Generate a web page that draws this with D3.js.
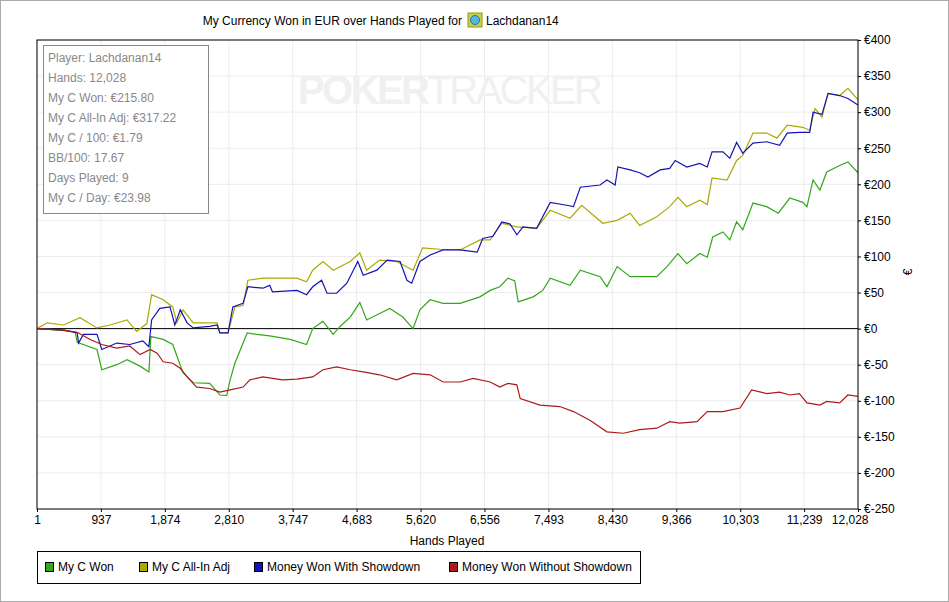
<!DOCTYPE html>
<html><head><meta charset="utf-8">
<script src="https://cdn.jsdelivr.net/npm/d3@7"></script>
<style>body{margin:0;background:#fff}svg{font-family:"Liberation Sans",Arial,sans-serif}</style>
</head><body><svg id="c" width="949" height="602"></svg>
<script>
const xTicks = [1, 937, 1874, 2810, 3747, 4683, 5620, 6556, 7493, 8430, 9366, 10303, 11239, 12028];
const yTicks = [400, 350, 300, 250, 200, 150, 100, 50, 0, -50, -100, -150, -200, -250];
const stats = ["Player: Lachdanan14", "Hands: 12,028", "My C Won: €215.80", "My C All-In Adj: €317.22",
  "My C / 100: €1.79", "BB/100: 17.67", "Days Played: 9", "My C / Day: €23.98"];

const wonHands = [1,340,560,590,880,950,1170,1320,1510,1640,1670,1850,1990,2050,2140,2290,2530,2680,2780,2830,2900,3080,3220,3410,3710,3950,4040,4190,4340,4440,4590,4730,4830,5020,5170,5360,5510,5610,5760,5950,6200,6490,6640,6780,6900,7000,7050,7270,7410,7520,7810,7960,8250,8350,8500,8690,8880,9080,9230,9390,9520,9710,9820,9900,10050,10150,10250,10340,10490,10690,10860,11030,11220,11280,11370,11470,11570,11760,11880,12028];
const wonVals  = [0,-2,-5,-19,-29,-57,-50,-43,-52,-60,-11,-15,-22,-38,-61,-75,-76,-92,-93,-71,-48,-6,-8,-10,-15,-22,0,10,-8,3,16,36,12,21,28,16,0,26,40,35,35,44,53,58,70,66,37,44,53,70,60,81,72,58,86,72,72,72,86,104,90,104,99,127,134,123,148,137,174,169,160,181,175,169,206,192,217,226,231,216];

const adjHands = [1,150,390,630,880,1070,1320,1460,1610,1680,1850,1990,2050,2140,2290,2490,2640,2680,2800,2860,2900,3020,3090,3310,3600,3810,3950,4040,4190,4340,4590,4730,4830,5020,5270,5510,5650,5900,6200,6490,6640,6810,7030,7320,7520,7810,7980,8290,8500,8690,8830,9080,9270,9390,9520,9710,9820,9890,10110,10250,10340,10490,10690,10840,10990,11220,11320,11400,11500,11590,11760,11880,12028];
const adjVals  = [0,8,5,15,1,5,12,-4,7,47,40,30,8,26,8,8,8,-6,-6,16,30,32,67,70,70,70,65,81,93,81,93,105,81,95,93,81,112,110,109,123,123,146,141,139,164,153,171,146,150,160,143,155,169,182,169,178,172,209,206,233,240,271,271,264,282,279,275,305,293,326,323,333,317];

const sdHands = [1,400,590,610,680,880,950,1170,1360,1550,1640,1680,1800,1950,2020,2100,2200,2290,2530,2640,2680,2800,2870,3020,3090,3310,3410,3450,3810,3950,4040,4170,4250,4390,4540,4700,4780,4980,5130,5320,5420,5490,5610,5760,5950,6200,6450,6530,6680,6810,6930,7030,7120,7320,7520,7760,7860,7960,8250,8350,8470,8510,8690,8830,8950,9130,9270,9350,9520,9710,9820,9890,10050,10150,10250,10340,10490,10690,10880,10990,11170,11320,11370,11500,11590,11760,11880,12028];
const sdVals  = [0,-2,-6,-20,-8,-8,-29,-20,-22,-17,-25,12,28,30,5,26,8,1,3,5,-6,-6,30,35,58,56,60,51,53,47,58,67,49,49,63,93,74,81,95,93,67,63,93,102,109,109,106,125,128,148,145,130,141,139,175,171,169,196,199,206,199,224,220,216,210,220,222,233,224,229,224,245,245,236,258,243,257,259,254,271,272,272,300,297,326,323,319,310];

const nsdHands = [1,390,590,780,950,1170,1360,1510,1660,1760,1850,1990,2100,2200,2340,2530,2680,2830,3020,3120,3310,3600,3810,4040,4190,4390,4590,4780,5020,5270,5510,5760,5950,6200,6390,6640,6780,6900,7030,7080,7370,7660,7860,8100,8350,8590,8830,9080,9270,9420,9670,9820,10050,10300,10470,10690,10880,11030,11170,11280,11470,11570,11760,11880,12028];
const nsdVals  = [0,-2,-5,-15,-22,-27,-24,-36,-29,-34,-46,-48,-55,-67,-81,-83,-88,-85,-81,-71,-67,-71,-70,-67,-57,-53,-57,-60,-64,-71,-62,-64,-74,-74,-69,-74,-81,-76,-78,-97,-106,-108,-115,-127,-143,-145,-140,-138,-129,-131,-129,-115,-115,-110,-85,-90,-88,-92,-90,-103,-106,-101,-103,-92,-94];

const series = [
  {name: "My C Won", color: "#33a81a", h: wonHands, v: wonVals},
  {name: "My C All-In Adj", color: "#aaaa00", h: adjHands, v: adjVals},
  {name: "Money Won With Showdown", color: "#1414b4", h: sdHands, v: sdVals},
  {name: "Money Won Without Showdown", color: "#ac1a1a", h: nsdHands, v: nsdVals}
];

const svg = d3.select("#c");
const L = 37, R = 858, T = 40, B = 509;
const x = d3.scaleLinear().domain([1, 12028]).range([L, R]);
const y = d3.scaleLinear().domain([-250, 400]).range([B, T]);

svg.append("rect").attr("x", 0.5).attr("y", 0.5).attr("width", 948).attr("height", 601)
  .attr("fill", "#fff").attr("stroke", "#aaa");

svg.append("text").attr("x", 462).attr("y", 25).attr("text-anchor", "end").attr("font-size", 12)
  .text("My Currency Won in EUR over Hands Played for");
svg.append("rect").attr("x", 468).attr("y", 13).attr("width", 14).attr("height", 14).attr("fill", "#c8d23c").attr("stroke", "#8a9a20");
svg.append("circle").attr("cx", 475).attr("cy", 20).attr("r", 4.5).attr("fill", "#5ab4e6").attr("stroke", "#2a6ea0");
svg.append("text").attr("x", 486).attr("y", 25).attr("font-size", 12).text("Lachdanan14");

// grid
svg.append("g").selectAll("line").data(xTicks).join("line")
  .attr("x1", d => x(d)).attr("x2", d => x(d)).attr("y1", T).attr("y2", B).attr("stroke", "#ececec");
svg.append("g").selectAll("line").data(yTicks).join("line")
  .attr("x1", L).attr("x2", R).attr("y1", d => y(d)).attr("y2", d => y(d)).attr("stroke", "#ececec");

// watermark
const wm = svg.append("text").attr("x", 298).attr("y", 104).attr("font-size", 40).attr("fill", "#f0f0f0")
  .attr("font-family", "Liberation Sans Narrow, Liberation Sans, sans-serif").attr("textLength", 305);
wm.append("tspan").attr("font-weight", "bold").text("POKER");
wm.append("tspan").attr("font-weight", "normal").text("TRACKER");

svg.append("line").attr("x1", L).attr("x2", R).attr("y1", y(0)).attr("y2", y(0)).attr("stroke", "#000");

const line = d3.line().x(d => x(d[0])).y(d => y(d[1]));
series.forEach(s => {
  svg.append("path").datum(d3.zip(s.h, s.v)).attr("d", line)
    .attr("fill", "none").attr("stroke", s.color).attr("stroke-width", 1.2);
});

svg.append("rect").attr("x", L).attr("y", T).attr("width", R - L).attr("height", B - T)
  .attr("fill", "none").attr("stroke", "#000");

const fmtE = d => "€" + d;
svg.append("g").attr("transform", `translate(${R},0)`)
  .call(d3.axisRight(y).tickValues(yTicks).tickSize(3).tickFormat(fmtE))
  .call(g => g.select(".domain").remove())
  .call(g => g.selectAll("text").attr("font-size", 12).attr("font-family", "Liberation Sans, Arial"));
svg.append("text").attr("transform", "translate(912,272) rotate(-90)").attr("text-anchor", "middle")
  .attr("font-size", 12).text("€");

svg.append("g").attr("transform", `translate(0,${B})`)
  .call(d3.axisBottom(x).tickValues(xTicks).tickSize(3).tickFormat(d3.format(",")))
  .call(g => g.select(".domain").remove())
  .call(g => g.selectAll("text").attr("font-size", 12).attr("font-family", "Liberation Sans, Arial"))
  .call(g => g.selectAll(".tick:last-of-type text").attr("text-anchor", "end").attr("dx", 10));
svg.append("text").attr("x", 447).attr("y", 545).attr("text-anchor", "middle").attr("font-size", 12).text("Hands Played");

// stats box
svg.append("rect").attr("x", 43.5).attr("y", 45.5).attr("width", 165).attr("height", 168)
  .attr("fill", "#fff").attr("stroke", "#888");
svg.append("g").selectAll("text").data(stats).join("text")
  .attr("x", 48).attr("y", (d, i) => 62 + i * 20).attr("font-size", 12).attr("fill", "#888").text(d => d);

// legend
svg.append("rect").attr("x", 37.5).attr("y", 551.5).attr("width", 603).attr("height", 32)
  .attr("fill", "#fff").attr("stroke", "#000");
const lx = [45, 139, 254, 449];
series.forEach((s, i) => {
  svg.append("rect").attr("x", lx[i] + 0.5).attr("y", 562.5).attr("width", 8).attr("height", 9)
    .attr("fill", s.color).attr("stroke", "#000");
  svg.append("text").attr("x", lx[i] + 13).attr("y", 571).attr("font-size", 12).text(s.name);
});
</script></body></html>
